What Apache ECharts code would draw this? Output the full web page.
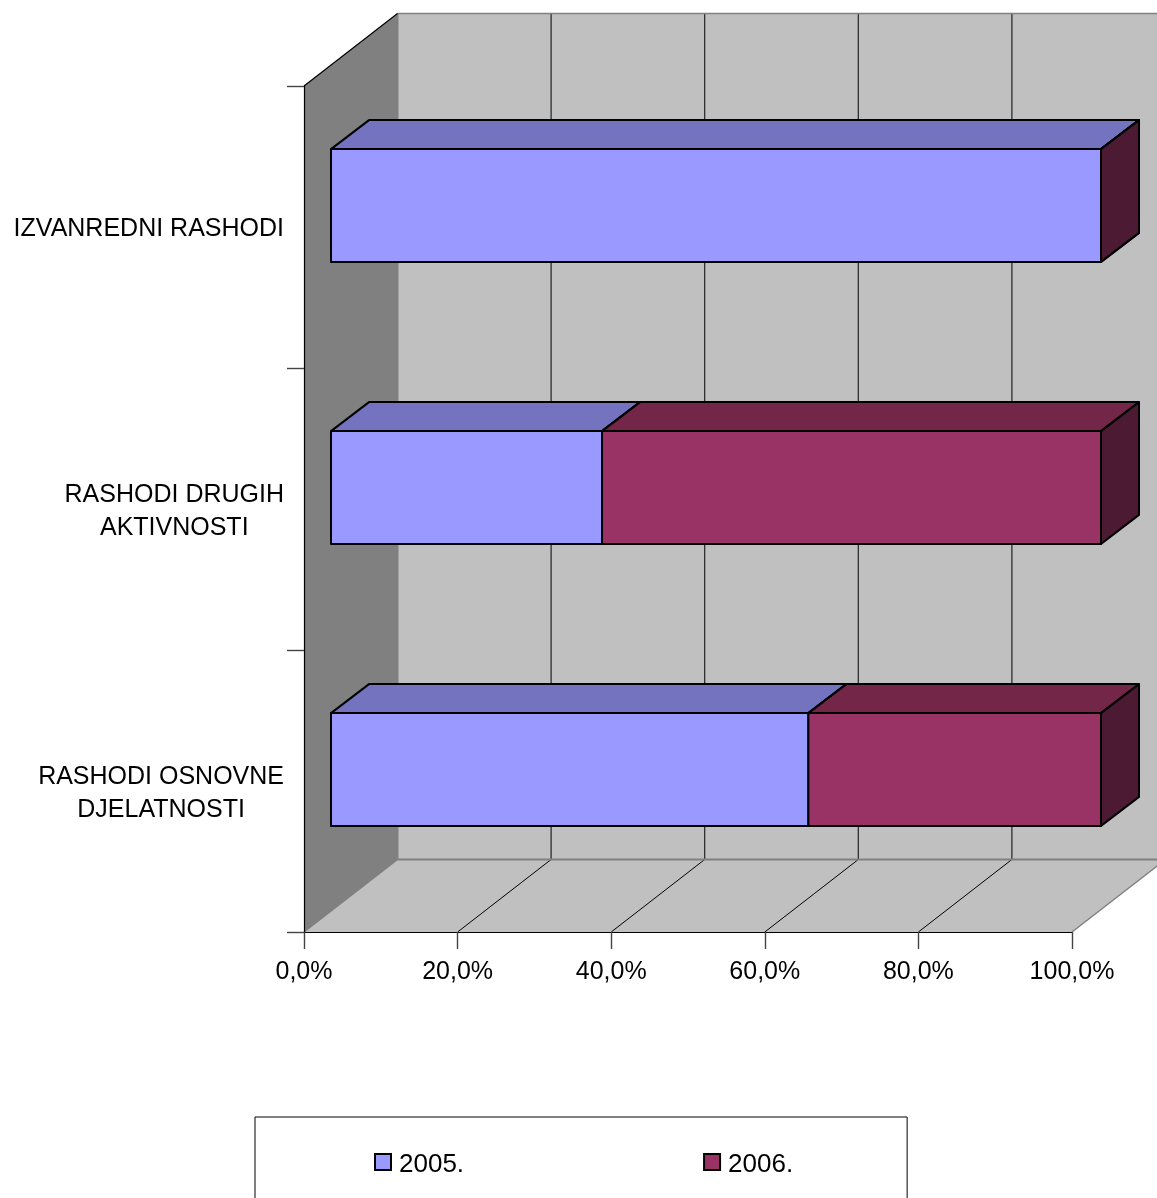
<!DOCTYPE html>
<html>
<head>
<meta charset="utf-8">
<style>html,body{margin:0;padding:0;background:#fff}#c{width:1157px;height:1198px}</style>
<script src="https://cdn.jsdelivr.net/npm/echarts@6/dist/echarts.min.js"></script>
</head>
<body>
<div id="c"></div>
<script>
const categories = ['RASHODI OSNOVNE\nDJELATNOSTI', 'RASHODI DRUGIH\nAKTIVNOSTI', 'IZVANREDNI RASHODI'];
const values2005 = [62.0, 35.2, 100];
const values2006 = [38.0, 64.8, 0];
const seriesNames = ['2005.', '2006.'];
const valueTicks = [20, 40, 60, 80, 100];

const FONT = '"Liberation Sans", Arial, sans-serif';
const WALL_DX = 93.5, WALL_DY = -72.5; // full depth of the 3D box
const BAR_DX = 27, BAR_DY = -21.5;     // front of bar relative to front of box
const BAR_STRETCH = 770 / 768;         // the bar plane is slightly wider than the front plane
const TOP_DX = 38, TOP_DY = -29;       // depth of a bar

function poly(points, fill, stroke, lw) {
  return { type: 'polygon', shape: { points }, silent: true,
    style: { fill: fill, stroke: stroke || 'none', lineWidth: lw || 0, lineJoin: 'round' } };
}
function seg(a, b, stroke, lw) {
  return { type: 'line', shape: { x1: a[0], y1: a[1], x2: b[0], y2: b[1] }, silent: true,
    style: { stroke, lineWidth: lw || 1, fill: 'none' } };
}

function renderBox(params, api) {
  const o = api.coord([0, 0]);
  const size = api.size([0, 1]);
  const x0 = o[0], y0 = o[1] + size[1] / 2;
  const x1 = api.coord([100, 0])[0];
  const y1 = y0 - size[1] * categories.length;
  const back = (p) => [p[0] + WALL_DX, p[1] + WALL_DY];
  const A = [x0, y0], B = [x1, y0], C = [x0, y1], D = [x1, y1];
  const kids = [
    poly([back(C), back(D), back(B), back(A)], '#C0C0C0'),
    poly([A, B, back(B), back(A)], '#C0C0C0'),
    poly([A, back(A), back(C), C], '#808080')
  ];
  valueTicks.forEach(v => {
    const x = api.coord([v, 0])[0];
    kids.push(seg([x + WALL_DX, y1 + WALL_DY], [x + WALL_DX, y0 + WALL_DY], '#222', 1.2));
    if (v < 100) kids.push(seg([x, y0], [x + WALL_DX, y0 + WALL_DY], '#000', 1));
  });
  kids.push(seg(back(C), back(D), '#808080', 1.5));
  kids.push(seg(back(A), back(B), '#808080', 2));
  kids.push(seg(back(C), back(A), '#808080', 2));
  kids.push(seg(A, back(A), '#808080', 1.5));
  kids.push(seg(B, back(B), '#808080', 1.5));
  kids.push(seg(C, back(C), '#000', 1.2));
  return { type: 'group', children: kids };
}

function renderBar(colors) {
  return function (params, api) {
    const base = api.coord([0, api.value(1)])[0];
    const s = api.coord([api.value(0), api.value(1)]);
    const e = api.coord([api.value(2), api.value(1)]);
    const h = api.size([0, 1])[1] * 0.4;
    const L = base + (s[0] - base) * BAR_STRETCH + BAR_DX;
    const R = base + (e[0] - base) * BAR_STRETCH + BAR_DX;
    const T = s[1] + BAR_DY - h / 2, Bt = s[1] + BAR_DY + h / 2;
    const dx = TOP_DX, dy = TOP_DY;
    return { type: 'group', children: [
      poly([[L, T], [R, T], [R + dx, T + dy], [L + dx, T + dy]], colors[1], '#000', 2),
      poly([[R, T], [R + dx, T + dy], [R + dx, Bt + dy], [R, Bt]], colors[2], '#000', 2),
      poly([[L, T], [R, T], [R, Bt], [L, Bt]], colors[0], '#000', 2)
    ]};
  };
}

function stackData(own, before) {
  return own.map((v, i) => [before[i], i, before[i] + v]);
}

const blue = ['#9999FF', '#7373BF', '#4D4D80'];
const maroon = ['#993366', '#732648', '#4D1A33'];

const chart = echarts.init(document.getElementById('c'), null, { renderer: 'canvas' });
chart.setOption({
  animation: false,
  backgroundColor: '#fff',
  textStyle: { fontFamily: FONT },
  grid: { left: 304, top: 86, width: 768, height: 846, containLabel: false },
  xAxis: {
    type: 'value', min: 0, max: 100, interval: 20, z: 5,
    splitLine: { show: false },
    axisLine: { show: true, onZero: false, lineStyle: { color: '#000', width: 1.2 } },
    axisTick: { show: true, length: 17, lineStyle: { color: '#444', width: 1.4 } },
    axisLabel: { margin: 28, fontSize: 25, color: '#000', fontFamily: FONT, hideOverlap: false,
      showMinLabel: true, showMaxLabel: true,
      formatter: v => v.toFixed(1).replace('.', ',') + '%' }
  },
  yAxis: {
    type: 'category', data: categories, z: 5,
    axisLine: { show: true, lineStyle: { color: '#000', width: 1.2 } },
    axisTick: { show: true, length: 17, alignWithLabel: false, lineStyle: { color: '#444', width: 1.4 } },
    splitLine: { show: false },
    axisLabel: { margin: 20, fontSize: 25, color: '#000', fontFamily: FONT, align: 'right', interval: 0,
      padding: [5, 0, 0, 0],
      formatter: v => v.split('\n').map(t => '{a|' + t + '}').join('\n'),
      rich: { a: { fontSize: 25, lineHeight: 33, align: 'center', color: '#000', fontFamily: FONT } } }
  },
  legend: {
    left: 255, top: 1117, orient: 'horizontal',
    padding: [35, 114, 100, 119],
    borderColor: '#000', borderWidth: 1,
    itemWidth: 16, itemHeight: 16, itemGap: 239,
    selectedMode: false,
    formatter: name => '{a|' + name + '}',
    textStyle: { fontSize: 26, color: '#000', fontFamily: FONT,
      rich: { a: { fontSize: 26, color: '#000', fontFamily: FONT, padding: [6, 0, 0, 3] } } },
    data: [
      { name: seriesNames[0], icon: 'rect', itemStyle: { color: blue[0], borderColor: '#000', borderWidth: 2 } },
      { name: seriesNames[1], icon: 'rect', itemStyle: { color: maroon[0], borderColor: '#000', borderWidth: 2 } }
    ]
  },
  series: [
    { type: 'custom', name: 'box', z: 1, silent: true, coordinateSystem: 'cartesian2d',
      data: [[0, 0]], encode: { x: 0, y: 1 }, renderItem: renderBox },
    { type: 'custom', name: seriesNames[0], z: 2, silent: true, coordinateSystem: 'cartesian2d',
      itemStyle: { color: blue[0] },
      data: stackData(values2005, values2005.map(() => 0)), encode: { x: [0, 2], y: 1 },
      renderItem: renderBar(blue) },
    { type: 'custom', name: seriesNames[1], z: 3, silent: true, coordinateSystem: 'cartesian2d',
      itemStyle: { color: maroon[0] },
      data: stackData(values2006, values2005), encode: { x: [0, 2], y: 1 },
      renderItem: renderBar(maroon) }
  ]
});
</script>
</body>
</html>
